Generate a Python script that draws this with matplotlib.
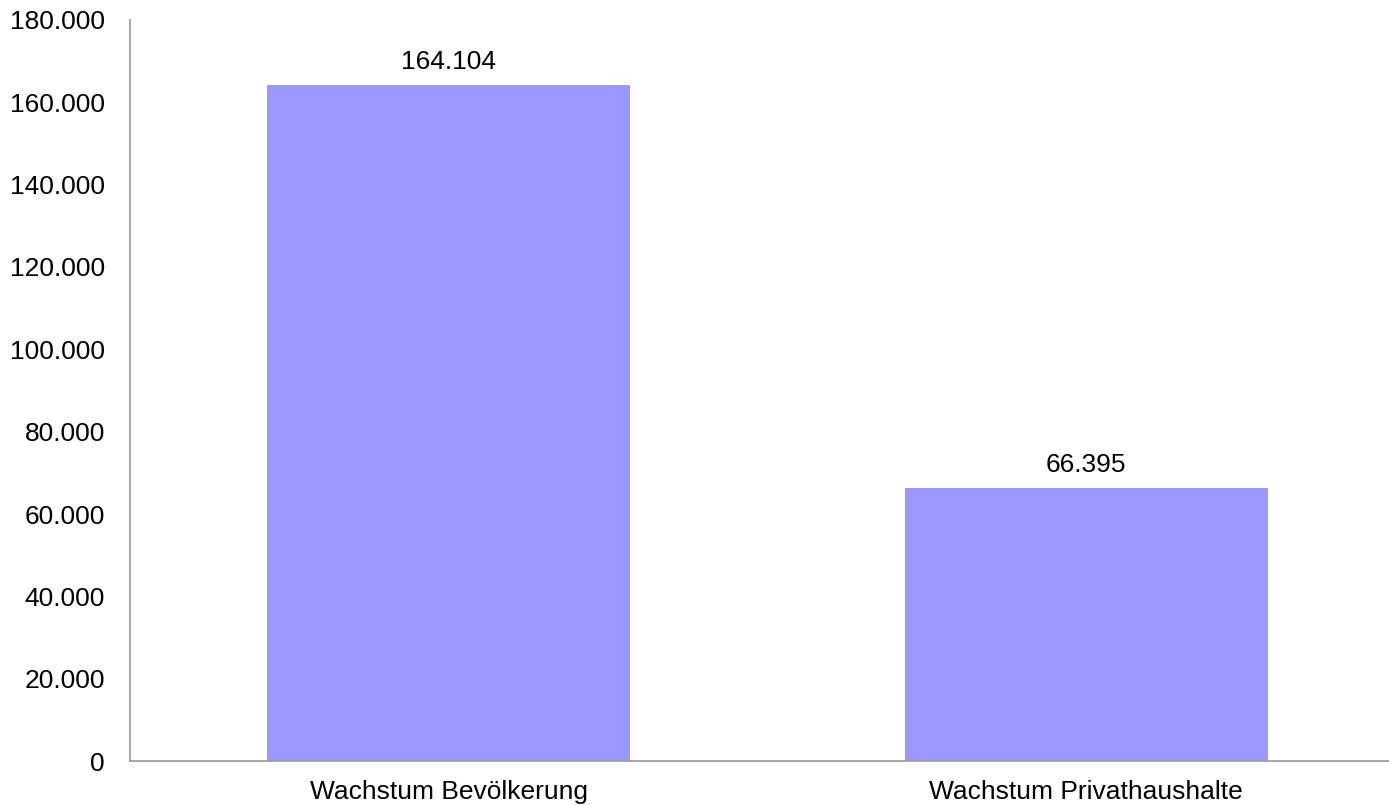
import matplotlib
matplotlib.use("Agg")
import matplotlib.pyplot as plt
from matplotlib.ticker import FuncFormatter

categories = ["Wachstum Bevölkerung", "Wachstum Privathaushalte"]
values = [164104, 66395]
yticks = [0, 20000, 40000, 60000, 80000, 100000, 120000, 140000, 160000, 180000]


def de_fmt(v, pos=None):
    return f"{int(round(v)):,}".replace(",", ".")


def main():
    plt.rcParams["font.family"] = ["Liberation Sans", "DejaVu Sans"]
    fig = plt.figure(figsize=(13.89, 8.05), dpi=100)
    ax = fig.add_axes([130 / 1389, 44 / 805, 1 - 130 / 1389, 741 / 805])

    x = range(len(categories))
    ax.bar(x, values, width=0.57, color="#9999FF")
    for xi, v in zip(x, values):
        ax.annotate(de_fmt(v), (xi, v), xytext=(0, 8), textcoords="offset points",
                    ha="center", va="bottom", fontsize=19)

    ax.set_xlim(-0.5, 1.475)
    ax.set_ylim(0, 180000)
    ax.set_yticks(yticks)
    ax.yaxis.set_major_formatter(FuncFormatter(de_fmt))
    ax.set_xticks(list(x))
    ax.set_xticklabels(categories)
    ax.tick_params(axis="both", length=0, labelsize=19)
    ax.tick_params(axis="y", pad=18)
    ax.tick_params(axis="x", pad=13.5)

    for s in ["top", "right"]:
        ax.spines[s].set_visible(False)
    for s in ["left", "bottom"]:
        ax.spines[s].set_color("#999999")
        ax.spines[s].set_linewidth(1.2)

    fig.savefig("out.png", dpi=100)


if __name__ == "__main__":
    main()
